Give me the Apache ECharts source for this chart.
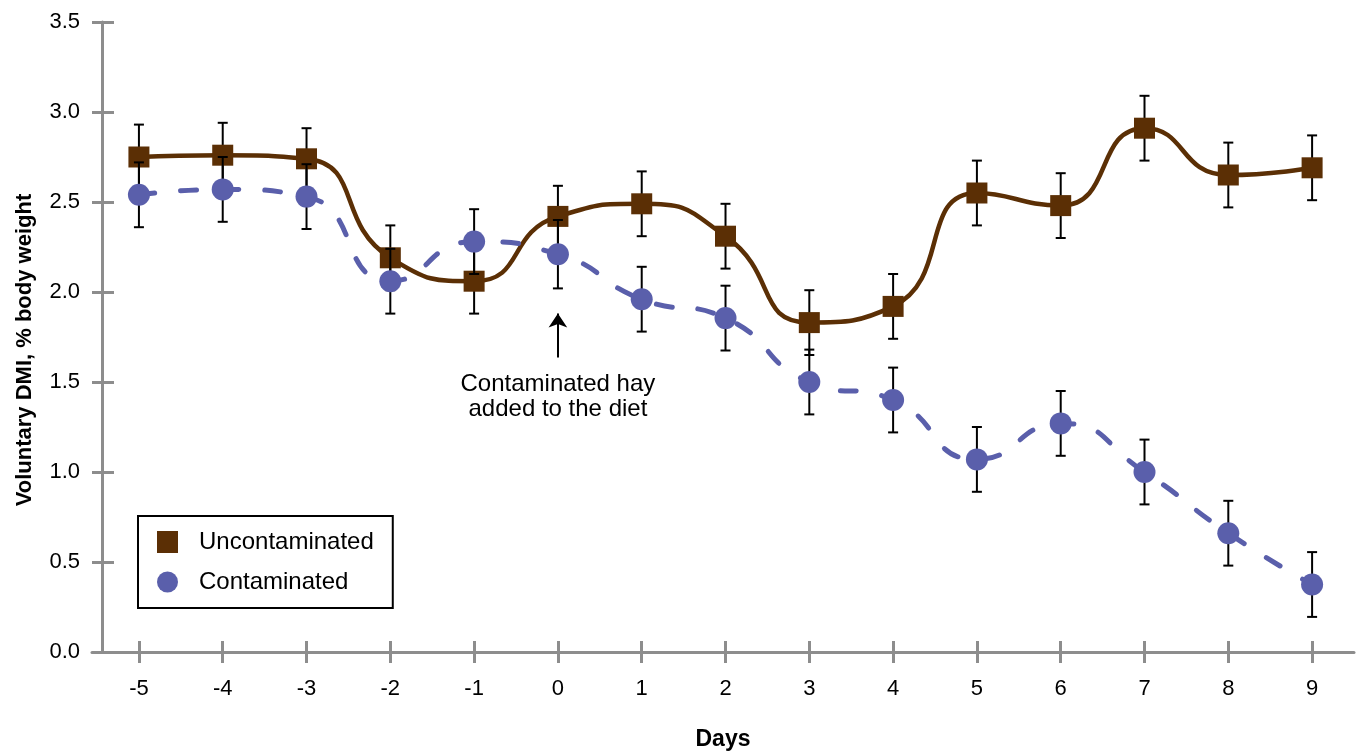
<!DOCTYPE html>
<html>
<head>
<meta charset="utf-8">
<script src="https://cdn.jsdelivr.net/npm/echarts@6/dist/echarts.min.js"></script>
<style>
  html, body { margin: 0; padding: 0; background: #ffffff; }
  #chart { width: 1358px; height: 756px; }
</style>
</head>
<body>
<div id="chart"></div>
<script>
// Days relative to the switch to contaminated hay
const days = [-5, -4, -3, -2, -1, 0, 1, 2, 3, 4, 5, 6, 7, 8, 9];

// Voluntary dry matter intake, % of body weight (means)
const uncontaminated = [2.75, 2.76, 2.74, 2.19, 2.06, 2.42, 2.49, 2.31, 1.83, 1.92, 2.55, 2.48, 2.91, 2.65, 2.69];
const contaminated   = [2.54, 2.57, 2.53, 2.06, 2.28, 2.21, 1.96, 1.855, 1.50, 1.40, 1.07, 1.27, 1.00, 0.66, 0.375];

// Standard errors (half-length of each error bar)
const uncontaminatedErr = [0.18, 0.18, 0.17, 0.18, 0.18, 0.17, 0.18, 0.18, 0.18, 0.18, 0.18, 0.18, 0.18, 0.18, 0.18];
const contaminatedErr   = [0.18, 0.18, 0.18, 0.18, 0.18, 0.19, 0.18, 0.18, 0.18, 0.18, 0.18, 0.18, 0.18, 0.18, 0.18];

// Axis tick labels
const xTicks = [-5, -4, -3, -2, -1, 0, 1, 2, 3, 4, 5, 6, 7, 8, 9];
const yTicks = [0, 0.5, 1.0, 1.5, 2.0, 2.5, 3.0, 3.5];

// Arrow marking the day the contaminated hay was introduced
const hayDay = 0;
const hayArrowFrom = 1.636;
const hayArrowTo = 1.88;
const hayLabel = 'Contaminated hay\nadded to the diet';

const BROWN = '#5b2f05';
const BLUE = '#5a5fab';
const AXIS_GREY = '#8d8d8d';
const FONT = '"Liberation Sans", Arial, Helvetica, sans-serif';

const pairs = (ys) => days.map((d, i) => [d, ys[i]]);
const bars = (ys, es) => days.map((d, i) => [d, ys[i] - es[i], ys[i] + es[i]]);

function errorBarItem(params, api) {
  const x = api.value(0);
  const top = api.coord([x, api.value(2)]);
  const bot = api.coord([x, api.value(1)]);
  const hw = 5;
  const style = { stroke: '#000000', lineWidth: 2, fill: null };
  return {
    type: 'group',
    children: [
      { type: 'line', shape: { x1: top[0], y1: top[1], x2: bot[0], y2: bot[1] }, style },
      { type: 'line', shape: { x1: top[0] - hw, y1: top[1], x2: top[0] + hw, y2: top[1] }, style },
      { type: 'line', shape: { x1: bot[0] - hw, y1: bot[1], x2: bot[0] + hw, y2: bot[1] }, style }
    ]
  };
}

const chart = echarts.init(document.getElementById('chart'), null, { renderer: 'canvas' });

const xCommon = { type: 'value', min: -5.56, max: 9.5, position: 'bottom' };
const yCommon = { type: 'value', min: 0, max: 3.5, interval: 0.5, position: 'left', offset: -10 };

chart.setOption({
  animation: false,
  textStyle: { fontFamily: FONT, color: '#000000' },
  grid: { left: 92, right: 4, top: 22, bottom: 103, containLabel: false },
  legend: {
    orient: 'vertical',
    left: 138,
    top: 516,
    padding: [14, 19, 14, 19],
    itemGap: 16,
    itemWidth: 21,
    itemHeight: 22,
    borderColor: '#000000',
    borderWidth: 2,
    borderRadius: 0,
    backgroundColor: '#ffffff',
    selectedMode: false,
    textStyle: { fontSize: 24, color: '#000000', fontFamily: FONT, lineHeight: 24, padding: [0, 0, 0, 16] },
    data: ['Uncontaminated', 'Contaminated']
  },
  xAxis: [
    Object.assign({}, xCommon, {
      name: 'Days',
      nameLocation: 'middle',
      nameGap: 76,
      nameTextStyle: { fontSize: 23, fontWeight: 'bold', color: '#000000' },
      axisLine: { show: true, onZero: false, lineStyle: { color: AXIS_GREY, width: 3 } },
      axisTick: { show: true, inside: false, length: 11, customValues: xTicks, lineStyle: { color: AXIS_GREY, width: 3 } },
      axisLabel: { show: true, customValues: xTicks, margin: 26, fontSize: 22, color: '#000000',
                   formatter: (v) => String(v) },
      splitLine: { show: false }
    }),
    Object.assign({}, xCommon, {
      axisLine: { show: false, onZero: false },
      axisTick: { show: true, inside: true, length: 11, customValues: xTicks, lineStyle: { color: AXIS_GREY, width: 3 } },
      axisLabel: { show: false },
      splitLine: { show: false }
    })
  ],
  yAxis: [
    Object.assign({}, yCommon, {
      name: 'Voluntary DMI, % body weight',
      nameLocation: 'middle',
      nameGap: 66,
      nameRotate: 90,
      nameTextStyle: { fontSize: 22, fontWeight: 'bold', color: '#000000', padding: [0, 26, 0, 0] },
      axisLine: { show: true, onZero: false, lineStyle: { color: AXIS_GREY, width: 3 } },
      axisTick: { show: true, inside: false, length: 10, lineStyle: { color: AXIS_GREY, width: 3 } },
      axisLabel: { show: true, margin: 22, fontSize: 22, color: '#000000',
                   customValues: yTicks, formatter: (v) => v.toFixed(1) },
      splitLine: { show: false }
    }),
    Object.assign({}, yCommon, {
      axisLine: { show: false, onZero: false },
      axisTick: { show: true, inside: true, length: 12, lineStyle: { color: AXIS_GREY, width: 3 } },
      axisLabel: { show: false },
      splitLine: { show: false }
    })
  ],
  series: [
    {
      name: 'Uncontaminated curve',
      type: 'line',
      data: pairs(uncontaminated),
      smooth: 0.55,
      showSymbol: false,
      symbol: 'none',
      lineStyle: { color: BROWN, width: 4.5 },
      silent: true,
      z: 2
    },
    {
      name: 'Contaminated curve',
      type: 'line',
      data: pairs(contaminated),
      smooth: 0.55,
      showSymbol: false,
      symbol: 'none',
      lineStyle: { color: BLUE, width: 5, type: [16, 26], cap: 'round' },
      silent: true,
      z: 2,
      markLine: {
        silent: true,
        symbol: ['none', 'arrow'],
        symbolSize: 14,
        lineStyle: { color: '#000000', width: 2, type: 'solid' },
        label: {
          show: true,
          position: 'start',
          distance: 14,
          formatter: hayLabel,
          fontSize: 24,
          lineHeight: 25,
          color: '#000000',
          fontFamily: FONT,
          align: 'center'
        },
        emphasis: { disabled: true },
        data: [[{ coord: [hayDay, hayArrowFrom] }, { coord: [hayDay, hayArrowTo] }]]
      }
    },
    {
      name: 'Uncontaminated error',
      type: 'custom',
      renderItem: errorBarItem,
      data: bars(uncontaminated, uncontaminatedErr),
      encode: { x: 0, y: [1, 2] },
      silent: true,
      z: 3
    },
    {
      name: 'Uncontaminated',
      type: 'scatter',
      data: pairs(uncontaminated),
      symbol: 'rect',
      symbolSize: 21,
      itemStyle: { color: BROWN, opacity: 1 },
      silent: true,
      z: 4
    },
    {
      name: 'Contaminated error',
      type: 'custom',
      renderItem: errorBarItem,
      data: bars(contaminated, contaminatedErr),
      encode: { x: 0, y: [1, 2] },
      silent: true,
      z: 5
    },
    {
      name: 'Contaminated',
      type: 'scatter',
      data: pairs(contaminated),
      symbol: 'circle',
      symbolSize: 22,
      itemStyle: { color: BLUE, opacity: 1 },
      silent: true,
      z: 6
    }
  ]
});
</script>
</body>
</html>
